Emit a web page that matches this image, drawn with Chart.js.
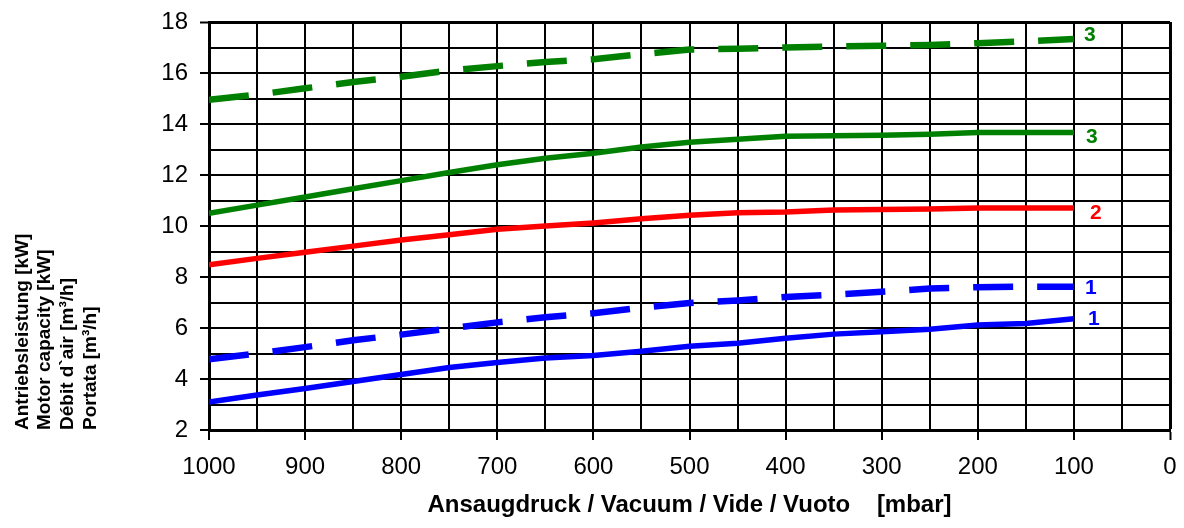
<!DOCTYPE html>
<html>
<head>
<meta charset="utf-8">
<script src="https://cdn.jsdelivr.net/npm/chart.js@4/dist/chart.umd.min.js"></script>
<style>
  body { margin: 0; background: #fff; }
  #wrap { width: 1184px; height: 528px; position: relative; }
</style>
</head>
<body>
<div id="wrap"><canvas id="pumpChart"></canvas></div>
<script>
// pressure points (mbar) the curves were read at
const pressure = [1000, 950, 900, 850, 800, 750, 700, 650, 600, 550, 500, 450, 400, 350, 300, 250, 200, 150, 100];

// curve 3 (dashed = air flow, solid = motor power)
const flow3  = [14.95, 15.15, 15.4, 15.65, 15.85, 16.1, 16.27, 16.43, 16.54, 16.74, 16.92, 16.95, 17.0, 17.04, 17.07, 17.1, 17.17, 17.24, 17.33];
const power3 = [10.5, 10.82, 11.14, 11.46, 11.78, 12.1, 12.4, 12.66, 12.85, 13.1, 13.28, 13.4, 13.52, 13.54, 13.56, 13.6, 13.67, 13.67, 13.67];
// curve 2
const power2 = [8.48, 8.73, 8.97, 9.21, 9.45, 9.66, 9.87, 10.0, 10.12, 10.28, 10.42, 10.52, 10.55, 10.63, 10.65, 10.67, 10.71, 10.71, 10.71];
// curve 1
const flow1  = [4.77, 5.0, 5.25, 5.52, 5.74, 5.98, 6.22, 6.42, 6.58, 6.8, 6.98, 7.08, 7.22, 7.3, 7.42, 7.55, 7.6, 7.62, 7.62];
const power1 = [3.1, 3.37, 3.63, 3.9, 4.18, 4.45, 4.65, 4.82, 4.92, 5.09, 5.28, 5.4, 5.6, 5.76, 5.85, 5.95, 6.12, 6.18, 6.36];

const curveNames = ['3', '3', '2', '1', '1'];

const yTitle = ['Antriebsleistung [kW]', 'Motor capacity [kW]', 'Débit d`air [m³/h]', 'Portata [m³/h]'];
const xTitle = 'Ansaugdruck / Vacuum / Vide / Vuoto    [mbar]';

const GREEN = '#008000', RED = '#ff0000', BLUE = '#0000ff';

function toPoints(values) {
  return pressure.map((p, i) => ({ x: p, y: values[i] }));
}

function line(values, color, dashed) {
  return {
    data: toPoints(values),
    borderColor: color,
    borderWidth: dashed ? 6.5 : 5.5,
    borderDash: dashed ? [40, 24] : [],
    pointRadius: 0,
    tension: 0,
    fill: false
  };
}

// little number at the end of every curve
const endLabels = {
  id: 'endLabels',
  afterDatasetsDraw(chart) {
    const ctx = chart.ctx;
    const shifts = [[16, -4], [18, 5], [22, 5], [17, 2], [20, 0]];
    ctx.save();
    ctx.font = 'bold 21px "Liberation Sans", Arial, sans-serif';
    ctx.textAlign = 'center';
    ctx.textBaseline = 'middle';
    chart.data.datasets.forEach((ds, i) => {
      const pts = chart.getDatasetMeta(i).data;
      const last = pts[pts.length - 1];
      ctx.fillStyle = ds.borderColor;
      ctx.fillText(curveNames[i], last.x + shifts[i][0], last.y + shifts[i][1]);
    });
    ctx.restore();
  }
};

const ctx = document.getElementById('pumpChart').getContext('2d');
new Chart(ctx, {
  type: 'line',
  data: {
    datasets: [
      line(flow3, GREEN, true),
      line(power3, GREEN, false),
      line(power2, RED, false),
      line(flow1, BLUE, true),
      line(power1, BLUE, false)
    ]
  },
  plugins: [endLabels],
  options: {
    responsive: true,
    maintainAspectRatio: false,
    animation: false,
    layout: { padding: { top: 22, right: 14, left: 0, bottom: 0 } },
    plugins: {
      legend: { display: false },
      tooltip: { enabled: false }
    },
    scales: {
      x: {
        type: 'linear',
        reverse: true,
        min: 0,
        max: 1000,
        afterFit: (scale) => {
          scale.height = 98;
          scale.paddingLeft = 0;
          scale.paddingRight = 0;
        },
        ticks: {
          stepSize: 50,
          autoSkip: false,
          maxRotation: 0,
          padding: 13,
          color: '#000',
          font: { family: '"Liberation Sans", Arial, sans-serif', size: 24 },
          callback: (v) => (v % 100 === 0 ? v : '')
        },
        grid: {
          color: '#000',
          lineWidth: (c) => (c.tick && c.tick.value === 0 ? 3 : 2),
          tickLength: 10,
          tickColor: (c) => (c.tick && c.tick.value % 100 === 0 ? '#000' : 'rgba(0,0,0,0)'),
          tickWidth: 2
        },
        border: { display: true, color: '#000', width: 3 },
        title: {
          display: true,
          text: xTitle,
          color: '#000',
          font: { family: '"Liberation Sans", Arial, sans-serif', size: 24, weight: 'bold' },
          padding: { top: 0, bottom: 8 }
        }
      },
      y: {
        min: 2,
        max: 18,
        afterFit: (scale) => {
          scale.width = 209;
          scale.paddingTop = 0;
          scale.paddingBottom = 0;
        },
        ticks: {
          stepSize: 1,
          autoSkip: false,
          padding: 12,
          color: '#000',
          font: { family: '"Liberation Sans", Arial, sans-serif', size: 24 },
          callback: (v) => (v % 2 === 0 ? v : '')
        },
        grid: {
          color: '#000',
          lineWidth: (c) => (c.tick && c.tick.value === 18 ? 3 : 2),
          tickLength: 9,
          tickColor: (c) => (c.tick && c.tick.value % 2 === 0 ? '#000' : 'rgba(0,0,0,0)'),
          tickWidth: 2
        },
        border: { display: true, color: '#000', width: 3 },
        title: {
          display: true,
          text: yTitle,
          align: 'start',
          color: '#000',
          font: { family: '"Liberation Sans", Arial, sans-serif', size: 19, weight: 'bold', lineHeight: 1.2 },
          padding: { top: 11, bottom: 0 }
        }
      }
    }
  }
});
</script>
</body>
</html>
